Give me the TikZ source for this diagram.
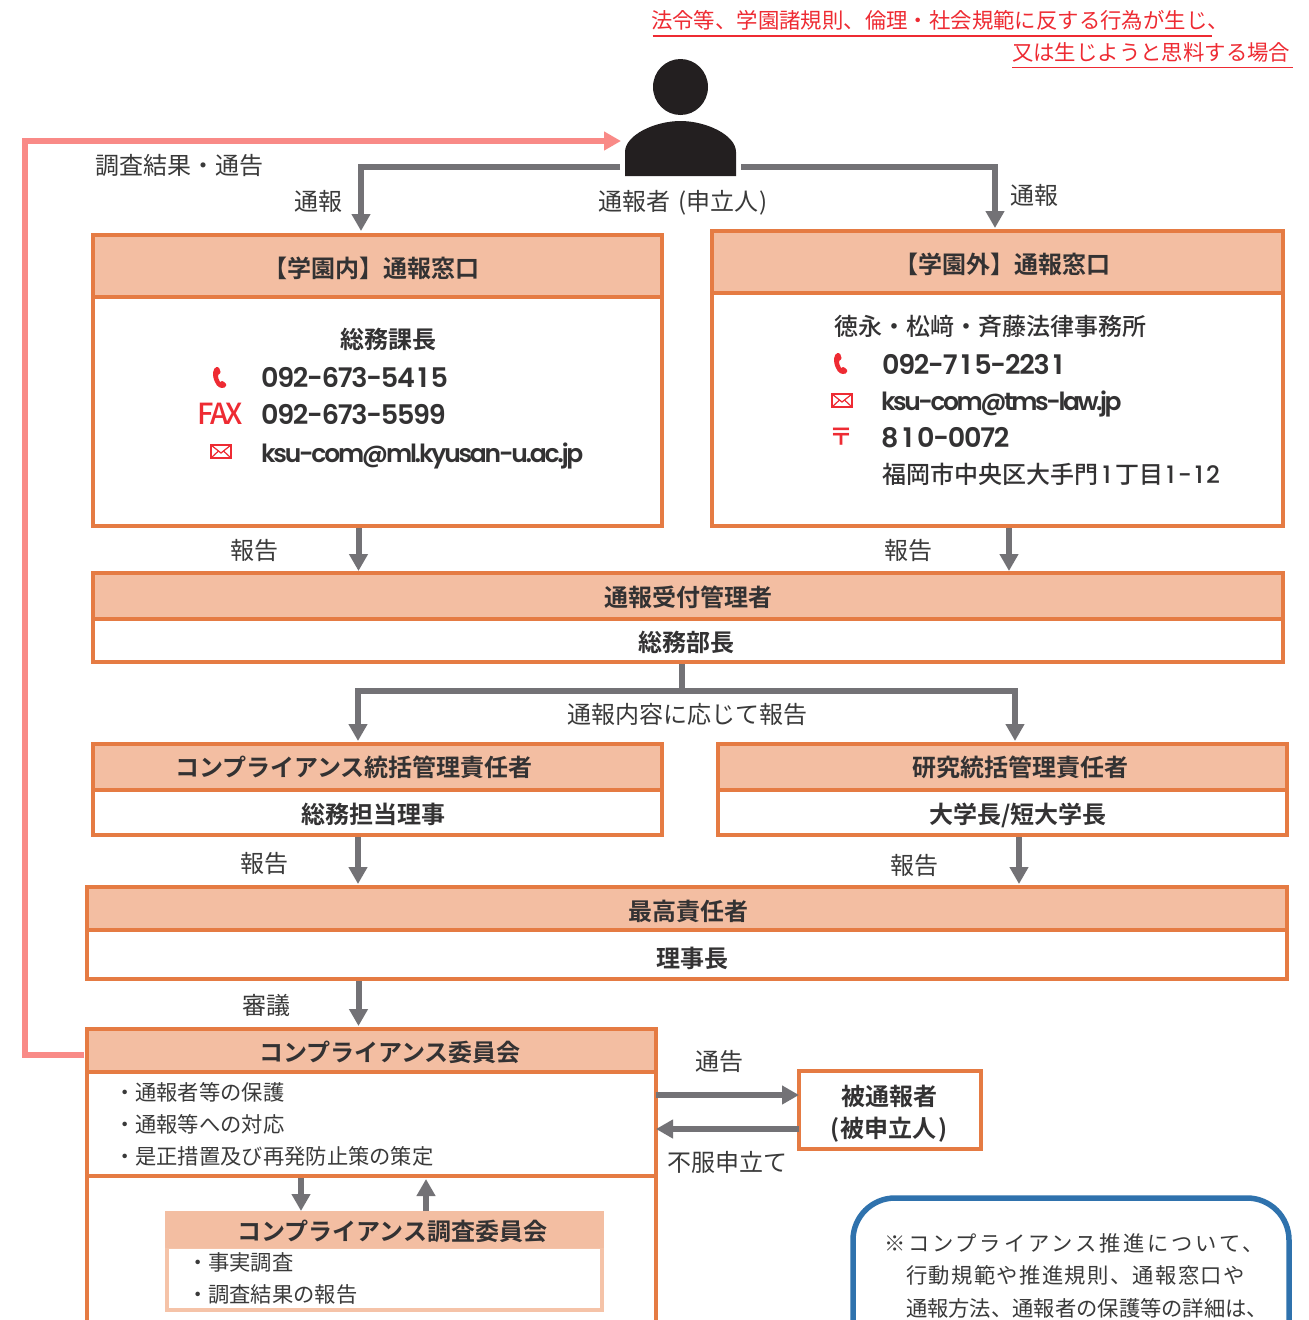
\documentclass[tikz,border=0pt]{standalone}
\usepackage{fontspec}
\setmainfont{Noto Sans CJK JP}
\newfontfamily\jpm{Noto Sans CJK JP Bold}
\newfontfamily\jpn{Noto Sans CJK JP Medium}
\newfontfamily\jpfax[LetterSpace=-7.5]{Noto Sans CJK JP Medium}
\newfontfamily\ltn[LetterSpace=-4.5]{Poppins SemiBold}
\newfontfamily\ltnm[LetterSpace=-8.9]{Poppins SemiBold}
\newfontfamily\ltnx[LetterSpace=-9.8]{Poppins SemiBold}
\newfontfamily\ltnd{Poppins Medium}
\newfontfamily\noteA[LetterSpace=13.3]{Noto Sans CJK JP}
\newfontfamily\noteB[LetterSpace=6.5]{Noto Sans CJK JP}
\newfontfamily\noteC[LetterSpace=0]{Noto Sans CJK JP}
\usetikzlibrary{arrows.meta}
\definecolor{orangeline}{HTML}{E57B43}
\definecolor{headfill}{HTML}{F3BEA2}
\definecolor{softline}{HTML}{F5C3A8}
\definecolor{grayarrow}{HTML}{737276}
\definecolor{pinkarrow}{HTML}{F98A87}
\definecolor{redtext}{HTML}{EE2B33}
\definecolor{bodytext}{HTML}{3A3A3A}
\definecolor{darktext}{HTML}{333233}
\definecolor{bluebox}{HTML}{2F72AD}
\definecolor{persona}{HTML}{231F20}
% text whose baseline sits at (centre + dx, centre + dy)
\newcommand\placetxt[3]{\smash{\makebox[0pt]{\hspace*{\dimexpr 2\dimexpr #1pt\relax\relax}\raisebox{\dimexpr -#2pt\relax}{#3}}}}
\newcommand\wideone[1]{\hspace{#1pt}1\hspace{#1pt}}
\tikzset{
 x=1pt,y=-1pt,
 every node/.style={inner sep=0pt,outer sep=0pt},
 headbox/.style={draw=orangeline,line width=4pt,fill=headfill,font=\jpm\fontsize{24pt}{24pt}\selectfont,text=darktext},
 bodybox/.style={draw=orangeline,line width=4pt,fill=white,font=\jpm\fontsize{24pt}{24pt}\selectfont,text=darktext},
 softhead/.style={fill=headfill,font=\jpm\fontsize{24pt}{24pt}\selectfont,text=darktext},
 softbody/.style={draw=softline,line width=3.5pt,fill=white},
 lbl/.style={font=\fontsize{24pt}{24pt}\selectfont,text=bodytext},
 item/.style={font=\fontsize{21.3pt}{21.3pt}\selectfont,text=bodytext,anchor=base west},
 strong/.style={font=\jpm\fontsize{24pt}{24pt}\selectfont,text=darktext},
 semi/.style={font=\jpn\fontsize{24pt}{24pt}\selectfont,text=darktext},
 redl/.style={font=\fontsize{21.4pt}{21.4pt}\selectfont,text=redtext},
 redrule/.style={draw=redtext,line width=1.8pt},
 num/.style={font=\ltn\fontsize{27pt}{27pt}\selectfont,text=darktext,anchor=base west},
 mail/.style={font=\ltnm\fontsize{25pt}{25pt}\selectfont,text=darktext,anchor=base west},
 mailx/.style={font=\ltnx\fontsize{25pt}{25pt}\selectfont,text=darktext,anchor=base west},
 flow/.style={draw=grayarrow,line width=6pt,-{Triangle[length=17pt,width=18pt]}},
 plainflow/.style={draw=grayarrow,line width=6pt},
 backflow/.style={draw=pinkarrow,line width=6pt,-{Triangle[length=17pt,width=18pt]}},
 icon/.style={draw=redtext,line width=1.2pt},
}
% box by edges: name, x1, y1, x2, y2, style, text
\newcommand\edgebox[7]{%
 \pgfmathsetmacro\bw{#4-#2}\pgfmathsetmacro\bh{#5-#3}%
 \pgfmathsetmacro\bx{(#2+#4)/2}\pgfmathsetmacro\by{(#3+#5)/2}%
 \node[#6,minimum width=\bw pt,minimum height=\bh pt] (#1) at (\bx,\by) {#7};}
\newcommand\phoneicon[3]{%
 \begin{scope}[shift={(#1,#2)}]
 \fill[redtext] (3.5,0) .. controls (0,1) and (-1.5,8) .. (2,15) .. controls (4,20) and (8,22) .. (11.5,20.5) .. controls (13,20) and (13.5,18) .. (13,17) .. controls (12,15.5) and (10.5,14) .. (9,14) .. controls (8,14) and (7.5,15) .. (7,15) .. controls (5.5,13) and (4.5,9) .. (5.5,7.5) .. controls (6.5,7) and (7.5,6.5) .. (7.5,5) .. controls (7.5,3) and (6,-0.5) .. (3.5,0) -- cycle;
 \end{scope}}
\newcommand\mailicon[2]{%
 \draw[icon] (#1,#2) rectangle ++(20,13);
 \draw[icon] (#1,#2) -- ++(10,8) -- ++(10,-8);
 \draw[icon] (#1,#2+13) -- ++(7.5,-7);
 \draw[icon] (#1+20,#2+13) -- ++(-7.5,-7);}
\begin{document}
\begin{tikzpicture}
\useasboundingbox (0,0) rectangle (1309,1320);
\clip (0,0) rectangle (1309,1320);
\fill[white] (0,0) rectangle (1309,1320);

% top note
\node[redl,anchor=base west] (noteone) at (651,28) {法令等、学園諸規則、倫理・社会規範に反する行為が生じ、};
\node[redl,anchor=base west] (notetwo) at (1012,60) {又は生じようと思料する場合};
\draw[redrule] (652.5,36) -- (1212,36);
\draw[redrule] (1012,67.5) -- (1293,67.5);

% person
\fill[persona] (680.5,87) ellipse [x radius=27.5pt,y radius=28pt];
\fill[persona] (625,176) -- (625,152) .. controls (625,135) and (655,121) .. (680.5,121) .. controls (706,121) and (736,135) .. (736,152) -- (736,176) -- cycle;
\node (person) at (680.5,147) {};
\coordinate (pleft) at (620,167);
\coordinate (pright) at (741,167);
\coordinate (pback) at (621,141);
\node[lbl] (personlabel) at (683,203) {通報者\hspace{2pt} (申立人\hspace{1pt})};

% boxes
\edgebox{inhead}{93}{235}{662}{297}{headbox}{\placetxt{-6.5}{11}{【学園内】通報窓口}}
\edgebox{inbody}{93}{297}{662}{526}{bodybox}{}
\edgebox{exhead}{712}{231}{1283}{293}{headbox}{\placetxt{5}{11}{【学園外】通報窓口}}
\edgebox{exbody}{712}{293}{1283}{526}{bodybox}{}
\edgebox{rchead}{93}{573}{1283}{619}{headbox}{\placetxt{0}{10}{通報受付管理者}}
\edgebox{rcbody}{93}{619}{1283}{662}{bodybox}{\placetxt{-2}{10.5}{総務部長}}
\edgebox{cphead}{93}{744}{662}{790}{headbox}{\placetxt{-23.5}{9}{コンプライアンス統括管理責任者}}
\edgebox{cpbody}{93}{790}{662}{835}{bodybox}{\placetxt{-4.5}{10.5}{総務担当理事}}
\edgebox{rshead}{718}{744}{1287}{790}{headbox}{\placetxt{17.5}{9}{研究統括管理責任者}}
\edgebox{rsbody}{718}{790}{1287}{835}{bodybox}{\placetxt{15.5}{10.5}{大学長/短大学長}}
\edgebox{tphead}{87}{887}{1287}{930}{headbox}{\placetxt{1}{11.5}{最高責任者}}
\edgebox{tpbody}{87}{930}{1287}{979}{bodybox}{\placetxt{5}{12.5}{理事長}}
\edgebox{cmhead}{87}{1029}{656}{1072}{headbox}{\placetxt{18.5}{10.5}{コンプライアンス委員会}}
\edgebox{cmbody}{87}{1072}{656}{1176}{bodybox}{}
\edgebox{cmrest}{87}{1176}{656}{1345}{bodybox}{}
\edgebox{ivbody}{167}{1247}{602}{1310}{softbody}{}
\edgebox{ivhead}{165}{1211}{604}{1248}{softhead}{\placetxt{8}{10.5}{コンプライアンス調査委員会}}
\edgebox{accused}{799}{1071}{981}{1149}{bodybox}{}
\node[strong,align=center] (accusedtext) at (889,1114) {被通報者\\[8pt](\hspace{1pt}被申立人\hspace{1pt})};

% blue note
\draw[draw=bluebox,line width=5.5pt,rounded corners=42pt] (853,1345) -- (853,1198) -- (1289,1198) -- (1289,1345);
\node[font=\noteA\fontsize{21.3pt}{21.3pt}\selectfont,text=bodytext,anchor=base west] (blueone) at (884,1251) {※コンプライアンス推進について、};
\node[font=\noteB\fontsize{21.3pt}{21.3pt}\selectfont,text=bodytext,anchor=base west] (bluetwo) at (906,1283) {行動規範や推進規則、通報窓口や};
\node[font=\noteC\fontsize{21.3pt}{21.3pt}\selectfont,text=bodytext,anchor=base west] (bluethree) at (906,1316) {通報方法、通報者の保護等の詳細は、};

% internal contact
\node[strong] (inrole) at (388,339) {総務課長};
\phoneicon{213}{367}{}
\node[num] (intel) at (261,387) {092-673-54\wideone{3}5};
\node[font=\jpfax\fontsize{29pt}{29pt}\selectfont,text=redtext,anchor=base west] (infax) at (197,424) {FAX};
\node[num] (infaxno) at (261,424) {092-673-5599};
\mailicon{211}{445}
\node[mail] (inmail) at (261,462) {ksu-com@ml.kyusan-u.ac.jp};

% external contact
\node[semi] (exrole) at (990,326) {徳永・松﨑・斉藤法律事務所};
\phoneicon{834}{353}{}
\node[num] (extel) at (882,374) {092-7\wideone{3.5}5-223\wideone{3.5}};
\mailicon{832}{394}
\node[mailx] (exmail) at (881,410) {ksu-com@tms-law.jp};
\node[font=\jpm\fontsize{24pt}{24pt}\selectfont,text=redtext] (expost) at (841,437) {〒};
\node[num] (exzip) at (881,447) {8\wideone{4.5}0-0072};
\node[font=\jpn\fontsize{24pt}{24pt}\selectfont,text=darktext,anchor=base west] (exaddr) at (882,483) {福岡市中央区大手門{\ltnd\fontsize{24pt}{24pt}\selectfont \wideone{4.5}}丁目{\ltnd\fontsize{24pt}{24pt}\selectfont \wideone{3}-\wideone{3}2}};

% committee items
\node[item] (cmone) at (114,1100) {・通報者等の保護};
\node[item] (cmtwo) at (114,1132) {・通報等への対応};
\node[item] (cmthree) at (114,1164) {・是正措置及び再発防止策の策定};
\node[item] (ivone) at (187,1270) {・事実調査};
\node[item] (ivtwo) at (187,1302) {・調査結果の報告};

% labels
\node[lbl] (lbresult) at (179,165) {調査結果・通告};
\node[lbl] (lbin) at (318,201) {通報};
\node[lbl] (lbex) at (1034,195) {通報};
\node[lbl] (lbr1) at (254,550) {報告};
\node[lbl] (lbr2) at (908,550) {報告};
\node[lbl] (lbcontent) at (687,714) {通報内容に応じて報告};
\node[lbl] (lbr3) at (264,863) {報告};
\node[lbl] (lbr4) at (914,865) {報告};
\node[lbl] (lbreview) at (266,1005) {審議};
\node[lbl] (lbnotice) at (719,1061) {通告};
\node[lbl] (lbobject) at (727,1162) {不服申立て};

% connectors (yshift is in canvas direction: positive = up)
\coordinate (xin) at (361,0);
\coordinate (xex) at (995,0);
\coordinate (a1) at (358.5,0);
\coordinate (a2) at (1009,0);
\coordinate (a3) at (682,691);
\coordinate (a4) at (358,0);
\coordinate (a5) at (1015,0);
\coordinate (a6) at (1019,0);
\coordinate (a7) at (301,0);
\coordinate (a8) at (426,0);
\coordinate (yout) at (0,1095);
\coordinate (yobj) at (0,1129);
\draw[flow] (pleft) -| ([yshift=4pt]inhead.north -| xin);
\draw[flow] (pright) -| ([yshift=3pt]exhead.north -| xex);
\draw[flow] ([yshift=-2pt]inbody.south -| a1) -- ([yshift=2pt]rchead.north -| a1);
\draw[flow] ([yshift=-2pt]exbody.south -| a2) -- ([yshift=2pt]rchead.north -| a2);
\draw[plainflow] ([yshift=-2pt]rcbody.south -| a3) -- (a3);
\draw[plainflow] ([xshift=-3pt]a3 -| a4) -- ([xshift=3pt]a3 -| a5);
\draw[flow] (a3 -| a5) -- ([yshift=3pt]rshead.north -| a5);
\draw[flow] (a3 -| a4) -- ([yshift=3pt]cphead.north -| a4);
\draw[flow] ([yshift=-2pt]cpbody.south -| a4) -- ([yshift=3pt]tphead.north -| a4);
\draw[flow] ([yshift=-2pt]rsbody.south -| a6) -- ([yshift=3pt]tphead.north -| a6);
\draw[flow] ([yshift=-2pt]tpbody.south -| a1) -- ([yshift=3pt]cmhead.north -| a1);
\draw[flow] ([yshift=-2pt]cmbody.south -| a7) -- (ivhead.north -| a7);
\draw[flow] (ivhead.north -| a8) -- ([yshift=-3pt]cmbody.south -| a8);
\draw[flow] (cmbody.east |- yout) -- (accused.west |- yout);
\draw[flow] (accused.west |- yobj) -- (cmbody.east |- yobj);
\coordinate (pinkstart) at (84,1055);
\coordinate (pinkcorner) at (25,141);
\draw[backflow] (pinkstart) -| (pinkcorner) -- (pback);
\end{tikzpicture}
\end{document}
